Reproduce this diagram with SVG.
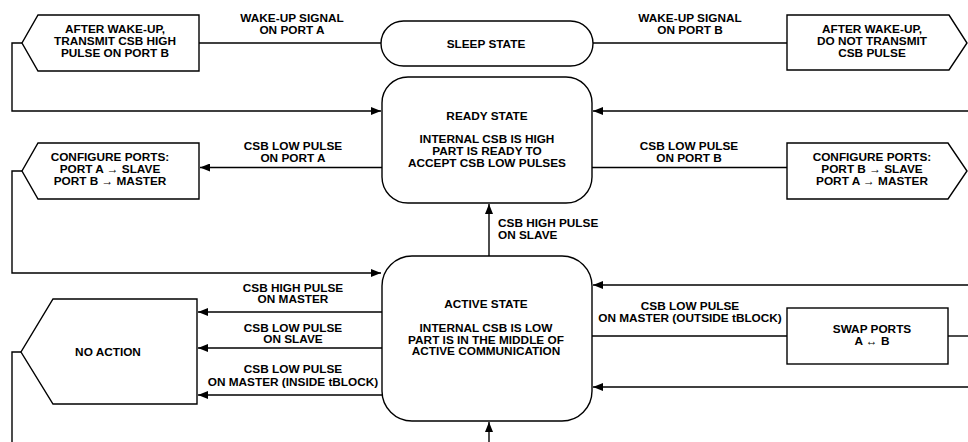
<svg xmlns="http://www.w3.org/2000/svg" width="968" height="442" viewBox="0 0 968 442">
<style>
  .shape { fill: #fff; stroke: #000; stroke-width: 1.4; }
  .wire { fill: none; stroke: #000; stroke-width: 1.4; }
  text { font-family: "Liberation Sans", Arial, sans-serif; font-weight: bold; font-size: 11.8px; fill: #000; text-anchor: middle; }
  .la { text-anchor: start; }
</style>
<defs>
  <marker id="arr" markerUnits="userSpaceOnUse" markerWidth="11" markerHeight="8" refX="10" refY="4" orient="auto">
    <path d="M0,0 L10,4 L0,8 Z" fill="#000"/>
  </marker>
</defs>
<rect width="968" height="442" fill="#fff"/>

<g id="connectors">
  <line class="wire" x1="381" y1="43" x2="199" y2="43"/>
  <line class="wire" x1="593" y1="43" x2="787" y2="43"/>
  <path class="wire" d="M22,43 H12 V111 H381" marker-end="url(#arr)"/>
  <path class="wire" d="M968,111 H593" marker-end="url(#arr)"/>
  <path class="wire" d="M382,167.5 H200" marker-end="url(#arr)"/>
  <line class="wire" x1="592" y1="167.5" x2="787" y2="167.5"/>
  <path class="wire" d="M22,171 H12 V273 H381" marker-end="url(#arr)"/>
  <path class="wire" d="M489,256 V204" marker-end="url(#arr)"/>
  <path class="wire" d="M382,312 H198" marker-end="url(#arr)"/>
  <path class="wire" d="M382,348 H198" marker-end="url(#arr)"/>
  <path class="wire" d="M382,395 H198" marker-end="url(#arr)"/>
  <path class="wire" d="M21,352 H12 V442"/>
  <path class="wire" d="M968,285 H593" marker-end="url(#arr)"/>
  <path class="wire" d="M968,387 H593" marker-end="url(#arr)"/>
  <line class="wire" x1="592" y1="336" x2="787" y2="336"/>
  <line class="wire" x1="948" y1="336" x2="968" y2="336"/>
  <path class="wire" d="M489,442 V422" marker-end="url(#arr)"/>

  <text x="292" y="22">WAKE-UP SIGNAL</text>
  <text x="292" y="33.5">ON PORT A</text>
  <text x="690" y="22">WAKE-UP SIGNAL</text>
  <text x="690" y="33.5">ON PORT B</text>
  <text x="293" y="150">CSB LOW PULSE</text>
  <text x="293" y="161.5">ON PORT A</text>
  <text x="689" y="150">CSB LOW PULSE</text>
  <text x="689" y="161.5">ON PORT B</text>
  <text class="la" x="498" y="227">CSB HIGH PULSE</text>
  <text class="la" x="498" y="238.5">ON SLAVE</text>
  <text x="293" y="291.5">CSB HIGH PULSE</text>
  <text x="293" y="303">ON MASTER</text>
  <text x="293" y="331.5">CSB LOW PULSE</text>
  <text x="293" y="343">ON SLAVE</text>
  <text x="293" y="373">CSB LOW PULSE</text>
  <text x="293" y="385.5">ON MASTER (INSIDE tBLOCK)</text>
  <text x="690" y="309.5">CSB LOW PULSE</text>
  <text x="690" y="321.5">ON MASTER (OUTSIDE tBLOCK)</text>
</g>

<g id="sleep">
  <rect class="shape" x="381" y="21" width="212" height="45" rx="22.5" ry="22.5"/>
  <text x="486" y="48">SLEEP STATE</text>
</g>

<g id="ready">
  <rect class="shape" x="382" y="77" width="210" height="126" rx="26" ry="26"/>
  <text x="487" y="120">READY STATE</text>
  <text x="487" y="143.3">INTERNAL CSB IS HIGH</text>
  <text x="487" y="155">PART IS READY TO</text>
  <text x="487" y="166.7">ACCEPT CSB LOW PULSES</text>
</g>

<g id="active">
  <rect class="shape" x="382" y="256" width="210" height="165" rx="30" ry="30"/>
  <text x="486" y="308">ACTIVE STATE</text>
  <text x="486" y="332">INTERNAL CSB IS LOW</text>
  <text x="486" y="343.7">PART IS IN THE MIDDLE OF</text>
  <text x="486" y="355.4">ACTIVE COMMUNICATION</text>
</g>

<g id="wake-a">
  <polygon class="shape" points="38,15 199,15 199,71 38,71 22,43"/>
  <text x="115" y="33">AFTER WAKE-UP,</text>
  <text x="115" y="45">TRANSMIT CSB HIGH</text>
  <text x="115" y="57">PULSE ON PORT B</text>
</g>

<g id="wake-b">
  <polygon class="shape" points="787,15 949,15 967,43 949,70 787,70"/>
  <text x="872" y="33">AFTER WAKE-UP,</text>
  <text x="872" y="45">DO NOT TRANSMIT</text>
  <text x="872" y="57">CSB PULSE</text>
</g>

<g id="config-a">
  <polygon class="shape" points="38,143 199,143 199,199 38,199 22,171"/>
  <text x="110" y="161">CONFIGURE PORTS:</text>
  <text x="110" y="173">PORT A → SLAVE</text>
  <text x="110" y="185">PORT B → MASTER</text>
</g>

<g id="config-b">
  <polygon class="shape" points="787,143 948,143 967,171 948,199 787,199"/>
  <text x="872" y="161">CONFIGURE PORTS:</text>
  <text x="872" y="173">PORT B → SLAVE</text>
  <text x="872" y="185">PORT A → MASTER</text>
</g>

<g id="no-action">
  <polygon class="shape" points="53,299 197,299 197,404 53,404 21,352"/>
  <text x="108" y="356">NO ACTION</text>
</g>

<g id="swap">
  <rect class="shape" x="787" y="308" width="161" height="56"/>
  <text x="872" y="333">SWAP PORTS</text>
  <text x="872" y="344.5">A ↔ B</text>
</g>
</svg>
